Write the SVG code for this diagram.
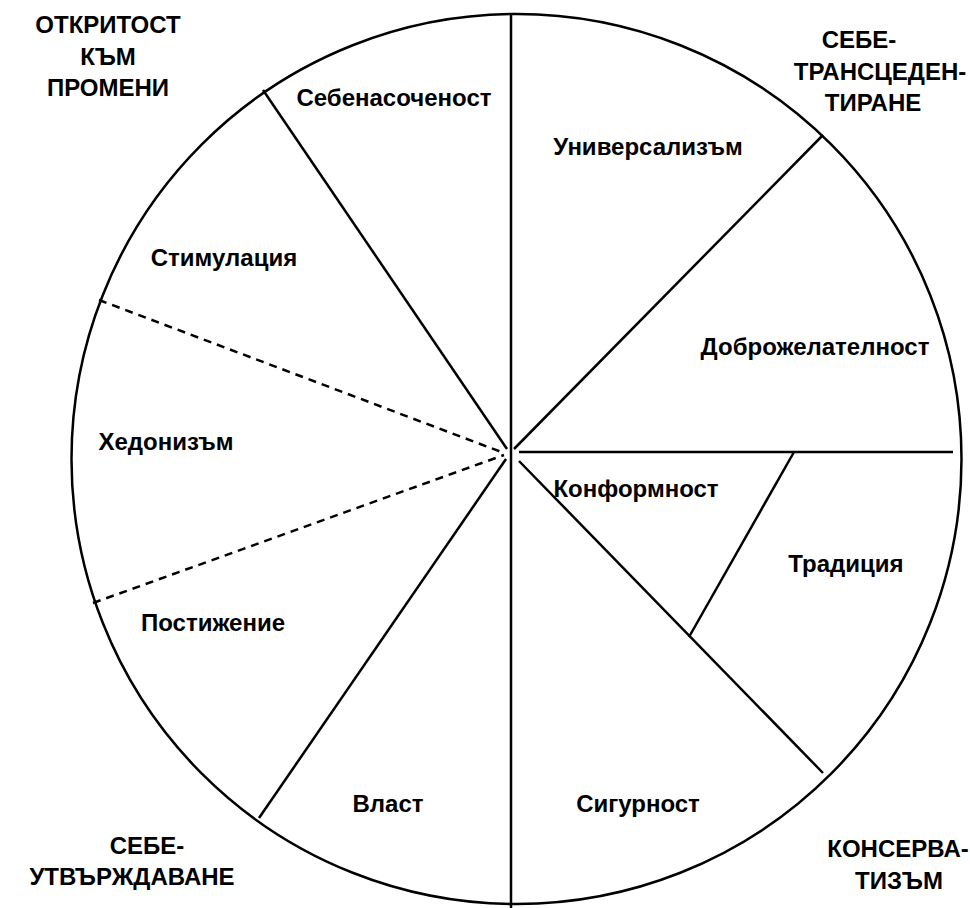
<svg xmlns="http://www.w3.org/2000/svg" width="970" height="908" viewBox="0 0 970 908">
<style>
.ln{stroke:#000;stroke-width:2.5;fill:none;stroke-linecap:butt}
.ds{stroke-dasharray:8 6}
text{font-family:"Liberation Sans",Arial,sans-serif;font-weight:bold;font-size:24px;fill:#000;text-anchor:middle}
</style>
<rect width="970" height="908" fill="#fff"/>
<g id="circle"><circle class="ln" cx="516.5" cy="459" r="445"/></g>
<g id="connectors">
<line class="ln" x1="511" y1="13" x2="511" y2="908"/>
<line class="ln" x1="263" y1="90" x2="507" y2="449"/>
<line class="ln" x1="823" y1="135" x2="514" y2="449"/>
<line class="ln" x1="519" y1="452" x2="953" y2="452"/>
<line class="ln" x1="519" y1="461" x2="823" y2="773"/>
<line class="ln" x1="794" y1="452" x2="689" y2="637"/>
<line class="ln" x1="506" y1="459" x2="259" y2="818"/>
<line class="ln ds" x1="99" y1="300" x2="504" y2="453"/>
<line class="ln ds" x1="93" y1="603" x2="504" y2="455"/>
</g>
<g id="n-sebenasochenost"><text x="394" y="106">Себенасоченост</text></g>
<g id="n-universalizam"><text x="648" y="155">Универсализъм</text></g>
<g id="n-stimulacia"><text x="224" y="266">Стимулация</text></g>
<g id="n-dobrozhelatelnost"><text x="815" y="355">Доброжелателност</text></g>
<g id="n-hedonizam"><text x="166" y="450">Хедонизъм</text></g>
<g id="n-konformnost"><text x="636" y="497">Конформност</text></g>
<g id="n-tradicia"><text x="846" y="572">Традиция</text></g>
<g id="n-postizhenie"><text x="213" y="631">Постижение</text></g>
<g id="n-vlast"><text x="388" y="812">Власт</text></g>
<g id="n-sigurnost"><text x="638" y="812">Сигурност</text></g>
<g id="g-otkritost"><text x="108" y="33">ОТКРИТОСТ</text><text x="108" y="65">КЪМ</text><text x="108" y="96">ПРОМЕНИ</text></g>
<g id="g-transcedentirane"><text x="859" y="48">СЕБЕ-</text><text x="880" y="80">ТРАНСЦЕДЕН-</text><text x="873" y="111">ТИРАНЕ</text></g>
<g id="g-utvarzhdavane"><text x="147" y="854">СЕБЕ-</text><text x="132" y="885">УТВЪРЖДАВАНЕ</text></g>
<g id="g-konservatizam"><text x="898" y="857">КОНСЕРВА-</text><text x="899" y="889">ТИЗЪМ</text></g>
</svg>
